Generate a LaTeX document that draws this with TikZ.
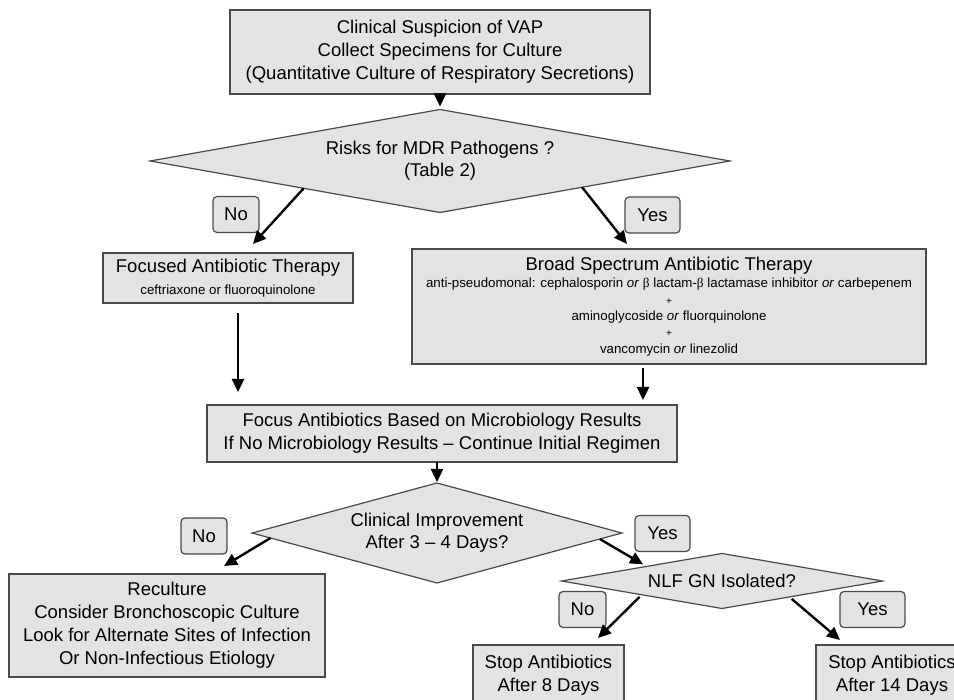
\documentclass[tikz,border=0pt]{standalone}
\usepackage{fontspec}
\setmainfont{Liberation Sans}
\newfontfamily\greekf{Liberation Serif}
\usetikzlibrary{shapes.geometric,arrows.meta,calc}
\definecolor{boxgray}{HTML}{E3E3E3}
\definecolor{bordergray}{HTML}{4A4A4A}
\begin{document}
\begin{tikzpicture}[x=1pt,y=1pt,
  box/.style={draw=bordergray, line width=1.3pt, fill=boxgray, inner sep=0pt, outer sep=0pt, align=center, font=\fontsize{18.5}{23}\selectfont},
  dia/.style={diamond, draw=bordergray, line width=1.2pt, fill=boxgray, inner sep=0pt, outer sep=0pt, aspect=4, align=center, font=\fontsize{18.5}{22}\selectfont},
  lbl/.style={draw=bordergray, line width=1.2pt, fill=boxgray, rounded corners=4pt, inner sep=0pt, outer sep=0pt, minimum height=36pt, font=\fontsize{18.5}{22}\selectfont},
  arr/.style={line width=2.4pt, -{Triangle[length=13pt,width=12pt]}},
]
\useasboundingbox (0,0) rectangle (954,-700);
\clip (0,0) rectangle (954,-700);

\node[box, minimum width=420pt, minimum height=84pt] (top) at (440,-52)
  {Clinical Suspicion of VAP\\Collect Specimens for Culture\\(Quantitative Culture of Respiratory Secretions)};
\node[dia, minimum width=580pt, minimum height=103pt] (d1) at (440,-161)
  {Risks for MDR Pathogens ?\\(Table 2)};
\node[box, minimum width=250pt, minimum height=50pt] (focused) at (228,-278)
  {Focused Antibiotic Therapy\\[-1pt]{\fontsize{13.3}{16}\selectfont ceftriaxone or fluoroquinolone}};
\node[box, minimum width=514pt, minimum height=115pt, font=\fontsize{13.3}{16.3}\selectfont] (broad) at (669,-306.5)
  {{\fontsize{18.5}{23}\selectfont Broad Spectrum Antibiotic Therapy}\\[1pt]
   anti-pseudomonal: cephalosporin \textit{or} {\greekf β} lactam-{\greekf β} lactamase inhibitor \textit{or} carbepenem\\
   {\fontsize{10}{16.3}\selectfont +}\\
   aminoglycoside \textit{or} fluorquinolone\\
   {\fontsize{10}{16.3}\selectfont +}\\
   vancomycin \textit{or} linezolid};
\node[box, minimum width=470pt, minimum height=57pt] (focus) at (442,-433.5)
  {Focus Antibiotics Based on Microbiology Results\\If No Microbiology Results – Continue Initial Regimen};
\node[dia, minimum width=370pt, minimum height=100pt] (d2) at (437,-533)
  {Clinical Improvement\\After 3 – 4 Days?};
\node[dia, minimum width=321pt, minimum height=55pt] (nlf) at (722,-581)
  {NLF GN Isolated?};
\node[box, minimum width=316pt, minimum height=103pt] (recul) at (167,-625.5)
  {Reculture\\Consider Bronchoscopic Culture\\Look for Alternate Sites of Infection\\Or Non-Infectious Etiology};
\node[box, minimum width=151pt, minimum height=61pt] (stop8) at (548.5,-675.5)
  {Stop Antibiotics\\After 8 Days};
\node[box, minimum width=152pt, minimum height=61pt] (stop14) at (892,-675.5)
  {Stop Antibiotics\\After 14 Days};

\node[lbl, minimum width=46pt] (n1) at (236,-214.5) {No};
\node[lbl, minimum width=55pt] (y1) at (652.5,-215) {Yes};
\node[lbl, minimum width=46pt] (n2) at (204,-536) {No};
\node[lbl, minimum width=55pt] (y2) at (662.5,-533.5) {Yes};
\node[lbl, minimum width=47pt] (n3) at (582.5,-609.5) {No};
\node[lbl, minimum width=65pt] (y3) at (872.5,-609.5) {Yes};

\draw[arr, shorten >=3pt] (top.south) -- (d1.north);
\draw[arr] ($(d1.west)!0.53!(d1.south)$) -- ([xshift=25pt,yshift=9pt]focused.north);
\draw[arr] ($(d1.south)!0.49!(d1.east)$) -- ([xshift=-42pt,yshift=5pt]broad.north);
\draw[arr, shorten <=10pt, shorten >=13pt] ([xshift=10pt]focused.south) -- ([xshift=10pt]focused.south |- focus.north);
\draw[arr, shorten <=4pt, shorten >=5pt] ([xshift=-26pt]broad.south) -- ([xshift=-26pt]broad.south |- focus.north);
\draw[arr, shorten >=1pt] (focus.south -| d2.north) -- (d2.north);
\draw[arr] ($(d2.west)!0.1!(d2.south)$) -- ([xshift=57pt,yshift=8pt]recul.north);
\draw[arr, shorten >=4pt] ($(d2.east)!0.12!(d2.south)$) -- ($(nlf.west)!0.53!(nlf.north)$);
\draw[arr, shorten <=3pt] ($(nlf.west)!0.5!(nlf.south)$) -- ([xshift=49.5pt,yshift=7pt]stop8.north);
\draw[arr, shorten <=3pt] ($(nlf.south)!0.42!(nlf.east)$) -- ([xshift=-52pt,yshift=5pt]stop14.north);
\end{tikzpicture}
\end{document}
